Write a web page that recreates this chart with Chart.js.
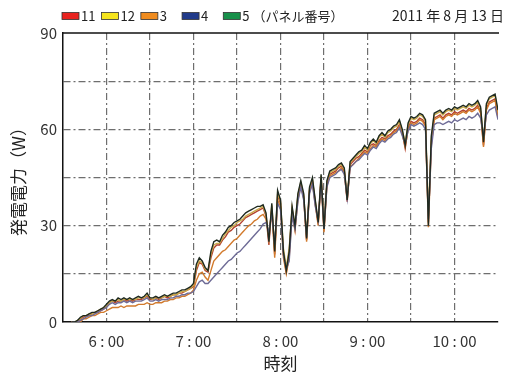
<!DOCTYPE html>
<html lang="ja">
<head>
<meta charset="utf-8">
<title>発電電力</title>
<script src="https://cdn.jsdelivr.net/npm/chart.js@4.4.1/dist/chart.umd.min.js"></script>
<style>
  html, body { margin: 0; padding: 0; background: #fff; }
  #wrap { width: 508px; height: 374px; position: relative; }
</style>
</head>
<body>
<div id="wrap"><canvas id="powerChart"></canvas></div>
<script>
// 時刻（分, 0:00 からの経過）
const times = [
  336, 338, 340, 342, 344, 346, 348, 350, 352, 354,
  356, 358, 360, 362, 364, 366, 368, 370, 372, 374,
  376, 378, 380, 382, 384, 386, 388, 390, 392, 394,
  396, 398, 400, 402, 404, 406, 408, 410, 412, 414,
  416, 418, 420, 422, 424, 426, 428, 430, 432, 434,
  436, 438, 440, 442, 444, 446, 448, 450, 452, 454,
  456, 458, 460, 462, 464, 466, 468, 470, 472, 474,
  476, 478, 480, 482, 484, 486, 488, 490, 492, 494,
  496, 498, 500, 502, 504, 506, 508, 510, 512, 514,
  516, 518, 520, 522, 524, 526, 528, 530, 532, 534,
  536, 538, 540, 542, 544, 546, 548, 550, 552, 554,
  556, 558, 560, 562, 564, 566, 568, 570, 572, 574,
  576, 578, 580, 582, 584, 586, 588, 590, 592, 594,
  596, 598, 600, 602, 604, 606, 608, 610, 612, 614,
  616, 618, 620, 622, 624, 626, 628, 630
];

// パネル別の発電電力 (W)
const panel11 = [
  0, 0, 0, 1, 1.5, 2, 2, 2.5, 3, 3,
  3.5, 4, 5, 6, 6.5, 6, 6.5, 6.5, 7, 6.5,
  7, 6.5, 7, 7, 7, 7.5, 8, 7, 7, 7.5,
  7, 7.5, 8, 7.5, 8, 8.5, 8.5, 9, 9, 9.5,
  10, 10.5, 11, 16, 18.5, 18, 16, 15.5, 20, 23,
  24, 24, 25.5, 26.5, 28, 28.5, 29.5, 30, 30.5, 31.5,
  32.5, 33, 33.5, 34, 34.5, 35, 35.5, 33, 24, 36,
  21, 39.5, 37, 21, 15.5, 21, 35, 29, 39, 43,
  39, 25.5, 41, 44, 37, 30.5, 45, 28.5, 43, 46,
  46.5, 47, 48, 48.5, 47, 37.5, 49, 50, 51, 51.5,
  52.5, 53.5, 53, 55, 55.5, 55, 56.5, 57.5, 57, 58,
  58.5, 59.5, 60, 61.5, 59, 54, 60.5, 62.5, 62, 62.5,
  63.5, 63, 61.5, 31, 56, 63.5, 64, 64.5, 63.5, 64.5,
  65, 64.5, 65.5, 65, 65.5, 66, 65.5, 66.5, 66, 66.5,
  67.5, 65.5, 55, 66.5, 68.5, 69, 69.5, 64
];
const panel12 = [
  0, 0, 0.5, 1, 2, 2, 2.5, 2.5, 3, 3.5,
  4, 4.5, 5, 6, 6.5, 6.5, 7, 6.5, 7, 7,
  7, 7, 7, 7.5, 7.5, 7.5, 8.5, 7.5, 7, 7.5,
  7.5, 7.5, 8, 8, 8, 8.5, 8.5, 9, 9.5, 9.5,
  10, 10.5, 11.5, 17, 19, 18.5, 16.5, 16, 21, 24,
  24.5, 24.5, 26, 27.5, 28.5, 29.5, 30, 31, 31.5, 32,
  33, 33.5, 34, 34.5, 35, 35.5, 36, 33.5, 26, 36.5,
  23, 40, 37.5, 23, 17, 23, 35.5, 30, 39.5, 43.5,
  39.5, 27, 41.5, 44.5, 37.5, 31, 45.5, 30, 43.5, 46.5,
  47, 47.5, 48.5, 49, 47.5, 39, 49.5, 50.5, 51.5, 52.5,
  53, 54.5, 53.5, 55.5, 56.5, 55.5, 57.5, 58.5, 57.5, 59,
  59.5, 60.5, 61, 62.5, 59.5, 56, 61.5, 63.5, 63, 63.5,
  64.5, 64, 62.5, 33, 57, 64.5, 65, 65.5, 64.5, 65.5,
  66, 65.5, 66.5, 66, 66.5, 67, 66.5, 67.5, 67, 67.5,
  68.5, 66.5, 57, 67.5, 69.5, 70, 70.5, 65
];
const panel3 = [
  0, 0, 0, 0, 1, 1, 1.5, 2, 2, 2.5,
  3, 3, 3.5, 4, 4.5, 4.5, 4.5, 5, 4.5, 5,
  5, 5, 5, 5.5, 5.5, 5.5, 6, 5.5, 5.5, 6,
  6, 6, 6.5, 6.5, 7, 7, 7.5, 7.5, 8, 8,
  8.5, 9, 10, 13, 15, 15.5, 14, 13, 16, 19,
  20, 21, 22, 22.5, 23.5, 24.5, 25.5, 26, 27, 28,
  29, 30, 30.5, 31.5, 32, 33, 33.5, 32, 27, 35,
  20, 38, 36, 20, 15, 20, 34, 28.5, 38, 42.5,
  38.5, 25, 40.5, 43.5, 36.5, 30, 44.5, 28, 42.5, 45.5,
  46, 46.5, 47, 48, 46.5, 38, 48.5, 49, 50, 51,
  52, 53, 52.5, 54, 55, 54.5, 56, 57, 56.5, 57.5,
  58, 59, 59.5, 61, 58.5, 54.5, 60, 62, 61.5, 62,
  63, 62.5, 61, 29.5, 55, 63, 63.5, 64, 63, 64,
  64.5, 64, 65, 64.5, 65, 65.5, 65, 66, 65.5, 66,
  67, 65, 54.5, 66, 68, 68.5, 69, 63.5
];
const panel4 = [
  0, 0, 0, 0.5, 1, 1.5, 2, 2, 2.5, 3,
  3.5, 4, 4.5, 5.5, 6, 5.5, 6, 6, 6.5, 6,
  6.5, 6, 6.5, 6.5, 6.5, 7, 7.5, 6.5, 6.5, 7,
  6.5, 7, 7, 7, 7.5, 7.5, 8, 8, 8.5, 8.5,
  9, 9, 9.5, 11, 12.5, 13, 12, 12, 13, 14,
  15, 16, 17, 18, 19, 19.5, 20.5, 21.5, 22, 23,
  24, 25, 26, 27, 28, 29, 30.5, 31, 28, 34,
  24, 37, 35, 21, 16.5, 19, 33, 29, 37.5, 42,
  38, 26.5, 40, 43, 36, 31.5, 44, 29, 42, 45,
  45.5, 46, 47, 47.5, 46, 38.5, 48, 49, 50, 50.5,
  51.5, 52.5, 52, 53.5, 54.5, 54, 55.5, 56.5, 56, 57,
  57.5, 58.5, 59, 60.5, 58, 55.5, 59.5, 61.5, 61, 61.5,
  62, 61.5, 60, 32, 54, 61.5, 62, 62, 61.5, 62,
  62.5, 62, 63, 62.5, 63, 63.5, 63, 64, 63.5, 64,
  65, 63.5, 58, 64.5, 66, 66.5, 67, 63
];
const panel5 = [
  0, 0, 0.5, 1.5, 2, 2, 2.5, 3, 3, 3.5,
  4, 4.5, 5.5, 6.5, 7, 6.5, 7.5, 7, 7.5, 7,
  7.5, 7, 7.5, 8, 7.5, 8, 9, 7.5, 7.5, 8,
  7.5, 8, 8.5, 8, 8.5, 9, 9, 9.5, 10, 10,
  10.5, 11, 12, 18, 20, 19, 17, 16, 22, 25,
  25.5, 25, 27, 28, 29.5, 30, 31, 31.5, 32, 33,
  34, 34.5, 35, 35.5, 36, 36, 36.5, 34, 25, 37,
  22, 41, 38, 22, 16, 22, 36, 30, 40, 44,
  40, 26, 42, 45, 38, 31, 46, 29, 44, 47,
  47.5, 48, 49, 49.5, 48, 38, 50, 51, 52, 53,
  53.5, 55, 54, 56, 57, 56, 58, 59, 58, 59.5,
  60, 61, 61.5, 63, 60, 55, 62, 64, 63.5, 64,
  65, 64.5, 63, 30, 58, 65, 65.5, 66, 65, 66,
  66.5, 66, 67, 66.5, 67, 67.5, 67, 68, 67.5, 68,
  69, 67, 56, 68, 70, 70.5, 71, 66
];

const panelLabels = ['11', '12', '3', '4', '5'];
const panelSeries = [panel11, panel12, panel3, panel4, panel5];
const legendColors = ['#e8231f', '#f6e51c', '#f08c1f', '#203a8a', '#17904a'];
const lineColors = ['#b4412f', '#c9aa4a', '#d27a2c', '#6e6b96', '#1f2a20'];
const dateText = '2011 年 8 月 13 日';

const CJK = "'Noto Sans CJK JP', 'Noto Sans', sans-serif";
const GRID_DASH = [7, 3, 2, 3];

// 凡例と日付（グラフ上部）
const headerPlugin = {
  id: 'header',
  afterDraw(chart) {
    const ctx = chart.ctx;
    ctx.save();
    ctx.font = '13px ' + CJK;
    ctx.textBaseline = 'middle';
    let x = 62;
    const y = 16;
    panelLabels.forEach((label, i) => {
      ctx.fillStyle = legendColors[i];
      ctx.fillRect(x, y - 3.5, 17, 7);
      ctx.strokeStyle = '#333';
      ctx.lineWidth = 0.8;
      ctx.strokeRect(x, y - 3.5, 17, 7);
      x += 19;
      ctx.fillStyle = '#222';
      const text = i === panelLabels.length - 1 ? label + ' （パネル番号）' : label;
      ctx.fillText(text, x, y);
      x += ctx.measureText(text).width + (i < 2 ? 6 : 15);
    });
    ctx.font = '14px ' + CJK;
    ctx.textAlign = 'right';
    ctx.fillText(dateText, 504, y);
    ctx.restore();
  }
};

// 上側の枠線
const framePlugin = {
  id: 'frame',
  afterDraw(chart) {
    const { ctx, chartArea } = chart;
    ctx.save();
    ctx.strokeStyle = '#111';
    ctx.lineWidth = 1.5;
    ctx.beginPath();
    ctx.moveTo(chartArea.left, chartArea.top);
    ctx.lineTo(chartArea.right + 1, chartArea.top);
    ctx.stroke();
    ctx.restore();
  }
};

function hideEdge(min, max) {
  return function(context) {
    const v = context.tick && context.tick.value;
    return (v === min || v === max) ? 'rgba(0,0,0,0)' : '#6e6e6e';
  };
}

function createPowerChart(canvasId) {
  const ctx = document.getElementById(canvasId).getContext('2d');
  new Chart(ctx, {
    type: 'line',
    data: {
      datasets: panelSeries.map((values, i) => ({
        label: panelLabels[i],
        data: times.map((t, j) => ({ x: t, y: values[j] })),
        borderColor: lineColors[i],
        backgroundColor: legendColors[i],
        borderWidth: 1.4,
        pointRadius: 0,
        tension: 0,
        order: i === 4 ? 0 : 5 - i
      }))
    },
    options: {
      responsive: true,
      maintainAspectRatio: false,
      animation: false,
      layout: { padding: { top: 33, right: 1, left: 0, bottom: 0 } },
      plugins: {
        legend: { display: false },
        tooltip: { enabled: false }
      },
      scales: {
        x: {
          type: 'linear',
          min: 330,
          max: 630,
          afterFit: function(scale) { scale.height = 52; },
          border: { color: '#111', width: 1.5, dash: GRID_DASH },
          grid: {
            color: hideEdge(330, 630),
            drawTicks: false,
            lineWidth: 1.2
          },
          ticks: {
            stepSize: 30,
            padding: 10,
            autoSkip: false,
            maxRotation: 0,
            color: '#333',
            font: { family: CJK, size: 15 },
            callback: function(value) {
              return value % 60 === 0 ? (value / 60) + ' : 00' : '';
            }
          },
          title: {
            display: true,
            text: '時刻',
            color: '#222',
            font: { family: CJK, size: 17 },
            padding: { top: 0, bottom: 0 }
          }
        },
        y: {
          min: 0,
          max: 90,
          afterFit: function(scale) { scale.width = 63; },
          border: { color: '#111', width: 1.5, dash: GRID_DASH },
          grid: {
            color: hideEdge(0, 90),
            drawTicks: false,
            lineWidth: 1.2
          },
          ticks: {
            stepSize: 15,
            padding: 6,
            color: '#333',
            font: { family: CJK, size: 15 },
            callback: function(value) {
              return value % 30 === 0 ? value : '';
            }
          },
          title: {
            display: true,
            text: '発電電力（W）',
            color: '#222',
            font: { family: CJK, size: 17 },
            padding: { top: 8, bottom: 0 }
          }
        }
      }
    },
    plugins: [headerPlugin, framePlugin]
  });
}

createPowerChart('powerChart');
</script>
</body>
</html>
